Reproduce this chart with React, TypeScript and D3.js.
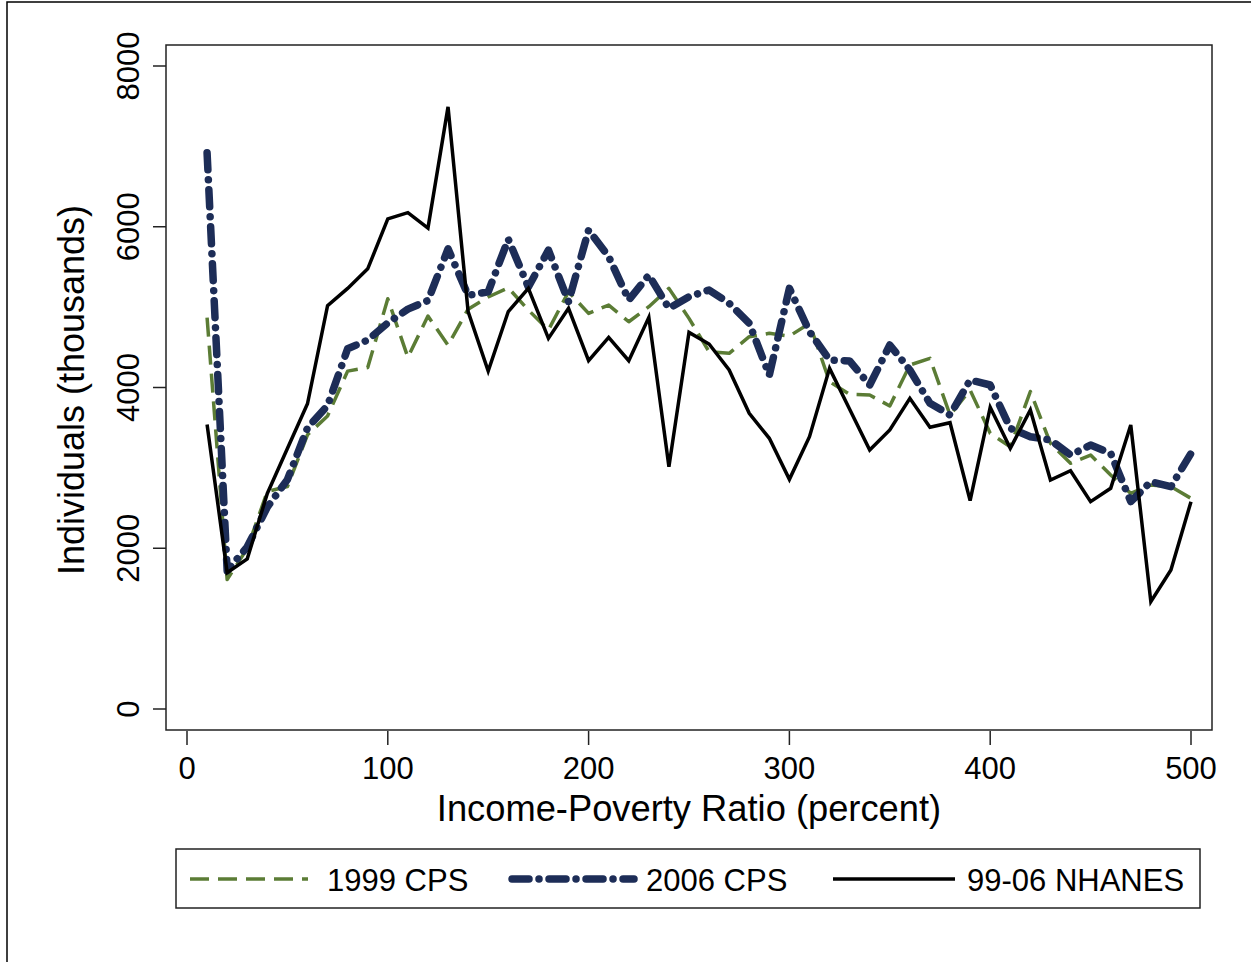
import React from "react";
import * as d3 from "d3";

const ratioPct = [10, 20, 30, 40, 50, 60, 70, 80, 90, 100, 110, 120, 130, 140, 150, 160, 170, 180, 190, 200, 210, 220, 230, 240, 250, 260, 270, 280, 290, 300, 310, 320, 330, 340, 350, 360, 370, 380, 390, 400, 410, 420, 430, 440, 450, 460, 470, 480, 490, 500];

const cps1999 = [4868, 1611, 1997, 2705, 2768, 3411, 3646, 4204, 4248, 5104, 4376, 4889, 4526, 4975, 5126, 5240, 4964, 4715, 5192, 4922, 5026, 4818, 5005, 5233, 4860, 4445, 4425, 4632, 4674, 4640, 4798, 4072, 3915, 3906, 3770, 4280, 4363, 3658, 3969, 3430, 3263, 3950, 3305, 3057, 3160, 2911, 2683, 2787, 2766, 2621];

const cps2006 = [6920, 1720, 2018, 2512, 2854, 3497, 3776, 4482, 4591, 4803, 4975, 5082, 5725, 5147, 5190, 5845, 5250, 5710, 5067, 5959, 5627, 5088, 5399, 4985, 5130, 5213, 5047, 4798, 4155, 5233, 4694, 4342, 4330, 4031, 4529, 4218, 3803, 3658, 4093, 4031, 3492, 3388, 3347, 3160, 3284, 3181, 2580, 2828, 2766, 3181];

const nhanes = [3540, 1697, 1868, 2682, 3240, 3797, 5019, 5233, 5476, 6098, 6176, 5983, 7491, 4945, 4204, 4945, 5233, 4611, 4985, 4333, 4624, 4333, 4873, 3015, 4686, 4541, 4218, 3679, 3368, 2857, 3388, 4238, 3730, 3222, 3471, 3865, 3505, 3562, 2592, 3753, 3243, 3720, 2849, 2965, 2580, 2746, 3533, 1335, 1729, 2580];

const xTicks = [0, 100, 200, 300, 400, 500];
const yTicks = [0, 2000, 4000, 6000, 8000];

const seriesNames = ["1999 CPS", "2006 CPS", "99-06 NHANES"];

const FONT = "'Liberation Sans', Arial, Helvetica, sans-serif";

export default function App() {
  const x = d3.scaleLinear().domain([0, 500]).range([187, 1191]);
  const y = d3.scaleLinear().domain([0, 8000]).range([709, 66]);
  const frame = { left: 166, right: 1212, top: 45, bottom: 730 };

  const mk = (vals: number[]) =>
    d3
      .line<number>()
      .x((_, i) => x(ratioPct[i]))
      .y((v) => y(v))(vals) || "";

  const styles = [
    { stroke: "#5b7c35", width: 3.5, dash: "19 9", cap: "butt" as const },
    { stroke: "#1d2d57", width: 7.5, dash: "17 10 0.01 10", cap: "round" as const },
    { stroke: "#000000", width: 3.5, dash: "none", cap: "butt" as const },
  ];
  const data = [cps1999, cps2006, nhanes];
  const order = [0, 1, 2];

  const legendItems = [
    { x1: 190, x2: 308, tx: 327 },
    { x1: 512, x2: 634, tx: 646 },
    { x1: 833, x2: 955, tx: 967 },
  ];

  return (
    <svg
      width={1251}
      height={962}
      style={{ position: "absolute", left: 0, top: 0, background: "#fff" }}
      fontFamily={FONT}
    >
      <rect x={0} y={0} width={1251} height={962} fill="#fff" />
      <rect x={7} y={2} width={1260} height={980} fill="none" stroke="#000" strokeWidth={1.5} />

      <rect
        x={frame.left}
        y={frame.top}
        width={frame.right - frame.left}
        height={frame.bottom - frame.top}
        fill="none"
        stroke="#222"
        strokeWidth={1.5}
      />

      {yTicks.map((t) => (
        <g key={"y" + t}>
          <line x1={frame.left} x2={frame.left - 13} y1={y(t)} y2={y(t)} stroke="#222" strokeWidth={1.5} />
          <text
            transform={`translate(139,${y(t)}) rotate(-90)`}
            textAnchor="middle"
            fontSize={31}
            fill="#000"
          >
            {t}
          </text>
        </g>
      ))}

      {xTicks.map((t) => (
        <g key={"x" + t}>
          <line x1={x(t)} x2={x(t)} y1={frame.bottom + 1} y2={frame.bottom + 15} stroke="#222" strokeWidth={1.5} />
          <text x={x(t)} y={779} textAnchor="middle" fontSize={31} fill="#000">
            {t}
          </text>
        </g>
      ))}

      <text x={(frame.left + frame.right) / 2} y={821} textAnchor="middle" fontSize={36.3} fill="#000">
        Income-Poverty Ratio (percent)
      </text>
      <text transform={`translate(84,390) rotate(-90)`} textAnchor="middle" fontSize={36} fill="#000">
        Individuals (thousands)
      </text>

      {order.map((k) => (
        <path
          key={"s" + k}
          d={mk(data[k])}
          fill="none"
          stroke={styles[k].stroke}
          strokeWidth={styles[k].width}
          strokeDasharray={styles[k].dash}
          strokeLinecap={styles[k].cap}
          strokeLinejoin={k === 2 ? "miter" : "round"}
        />
      ))}

      <rect x={176} y={849} width={1024} height={59} fill="#fff" stroke="#222" strokeWidth={1.5} />
      {legendItems.map((it, k) => (
        <g key={"l" + k}>
          <line
            x1={it.x1}
            x2={it.x2}
            y1={879}
            y2={879}
            stroke={styles[k].stroke}
            strokeWidth={styles[k].width}
            strokeDasharray={styles[k].dash}
            strokeLinecap={styles[k].cap}
          />
          <text x={it.tx} y={891} fontSize={31} fill="#000">
            {seriesNames[k]}
          </text>
        </g>
      ))}
    </svg>
  );
}
